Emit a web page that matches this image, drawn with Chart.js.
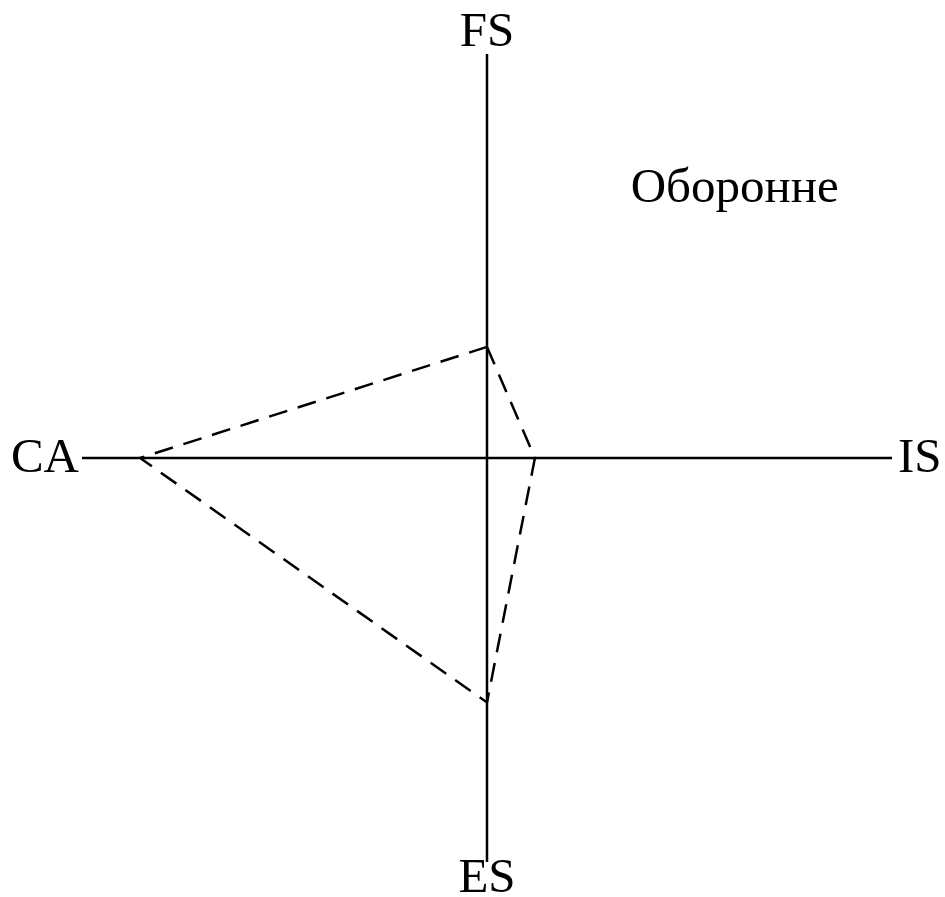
<!DOCTYPE html>
<html>
<head>
<meta charset="utf-8">
<script src="https://cdn.jsdelivr.net/npm/chart.js@4/dist/chart.umd.min.js"></script>
<style>
    html, body { margin: 0; padding: 0; background: #fff; }
    #wrap { width: 945px; height: 897px; position: relative; }
</style>
</head>
<body>
<div id="wrap"><canvas id="spaceChart"></canvas></div>
<script>
    // Осі матриці та значення
    const axisNames = ['FS', 'IS', 'ES', 'CA'];
    const axisLimit = 6;
    const axisValues = [1.65, 0.71, -3.63, -5.14]; // FS, IS, ES, CA
    const quadrantLabel = 'Оборонне';
    const quadrantPos = [3.67, 4.0];

    const polygon = [
        { x: 0, y: axisValues[0] },
        { x: axisValues[1], y: 0 },
        { x: 0, y: axisValues[2] },
        { x: axisValues[3], y: 0 },
        { x: 0, y: axisValues[0] }
    ];

    const labelsPlugin = {
        id: 'axisLabels',
        afterDraw(chart) {
            const ctx = chart.ctx;
            const xs = chart.scales.x, ys = chart.scales.y;
            const x0 = xs.getPixelForValue(0), y0 = ys.getPixelForValue(0);
            ctx.save();
            ctx.fillStyle = '#000';
            ctx.font = '49px "Liberation Serif", "Times New Roman", serif';
            ctx.textBaseline = 'middle';
            ctx.textAlign = 'center';
            ctx.fillText(axisNames[0], x0, ys.getPixelForValue(axisLimit) - 21);
            ctx.fillText(axisNames[2], x0, ys.getPixelForValue(-axisLimit) + 17);
            ctx.textAlign = 'left';
            ctx.fillText(axisNames[1], xs.getPixelForValue(axisLimit) + 6, y0 + 1);
            ctx.textAlign = 'right';
            ctx.fillText(axisNames[3], xs.getPixelForValue(-axisLimit) - 3, y0 + 1);
            ctx.textAlign = 'center';
            ctx.fillText(quadrantLabel, xs.getPixelForValue(quadrantPos[0]), ys.getPixelForValue(quadrantPos[1]));
            ctx.restore();
        }
    };

    new Chart(document.getElementById('spaceChart'), {
        type: 'scatter',
        data: {
            datasets: [
                {
                    data: [{ x: -axisLimit, y: 0 }, { x: axisLimit, y: 0 }],
                    showLine: true, borderColor: '#000', borderWidth: 2.5, pointRadius: 0
                },
                {
                    data: [{ x: 0, y: -axisLimit }, { x: 0, y: axisLimit }],
                    showLine: true, borderColor: '#000', borderWidth: 2.5, pointRadius: 0
                },
                {
                    data: polygon,
                    showLine: true, borderColor: '#000', borderWidth: 2.5,
                    borderDash: [19, 11], pointRadius: 0, tension: 0
                }
            ]
        },
        options: {
            responsive: true,
            maintainAspectRatio: false,
            animation: false,
            layout: { padding: { left: 82, right: 53, top: 54, bottom: 35 } },
            plugins: { legend: { display: false }, tooltip: { enabled: false } },
            scales: {
                x: { type: 'linear', min: -axisLimit, max: axisLimit, display: false },
                y: { type: 'linear', min: -axisLimit, max: axisLimit, display: false }
            }
        },
        plugins: [labelsPlugin]
    });
</script>
</body>
</html>
